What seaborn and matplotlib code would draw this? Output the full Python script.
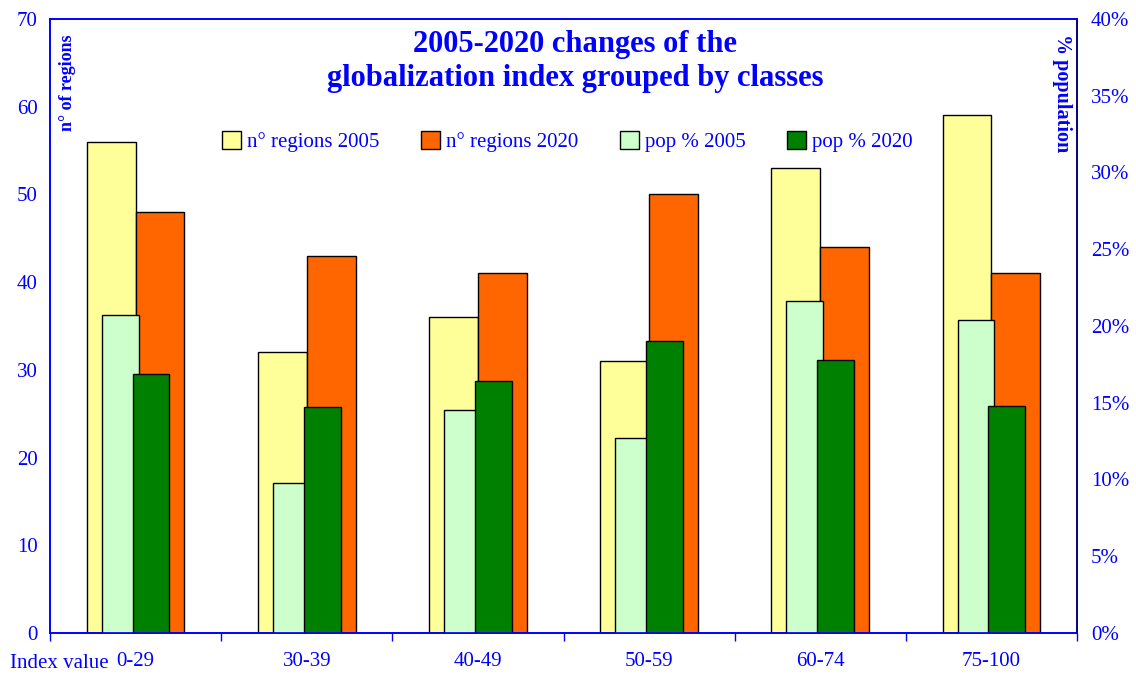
import matplotlib
matplotlib.use("Agg")
import matplotlib.pyplot as plt
import seaborn as sns
import pandas as pd
from matplotlib.ticker import MultipleLocator, FixedLocator, PercentFormatter
from matplotlib.patches import Patch

# --- data ---
classes = ["0-29", "30-39", "40-49", "50-59", "60-74", "75-100"]
regions_2005 = [56, 32, 36, 31, 53, 59]
regions_2020 = [48, 43, 41, 50, 44, 41]
pop_2005 = [20.7, 9.8, 14.5, 12.7, 21.6, 20.4]   # % population
pop_2020 = [16.9, 14.7, 16.4, 19.0, 17.8, 14.8]

reg_labels = ["n° regions 2005", "n° regions 2020"]
pop_labels = ["pop % 2005", "pop % 2020"]
reg_colors = ["#FFFF99", "#FF6600"]
pop_colors = ["#CCFFCC", "#008000"]
BLUE = "#0000FF"
NAVY = "#000080"

df_reg = pd.DataFrame({
    "cls": classes * 2,
    "value": regions_2005 + regions_2020,
    "series": [reg_labels[0]] * 6 + [reg_labels[1]] * 6,
})
df_pop = pd.DataFrame({
    "cls": classes * 2,
    "value": pop_2005 + pop_2020,
    "series": [pop_labels[0]] * 6 + [pop_labels[1]] * 6,
})

sns.set_theme(style="white")
plt.rcParams["font.family"] = ["Liberation Serif", "DejaVu Serif"]

fig = plt.figure(figsize=(11.36, 6.77), dpi=100)
ax = fig.add_axes([50 / 1136, 44 / 677, 1027 / 1136, 614 / 677])

# number of regions (left axis)
sns.barplot(data=df_reg, x="cls", y="value", hue="series", palette=reg_colors,
            width=0.57, saturation=1, edgecolor="black", linewidth=1,
            legend=False, ax=ax)

# population share (right axis), bars overlap slightly
ax2 = ax.twinx()
sns.barplot(data=df_pop, x="cls", y="value", hue="series", palette=pop_colors,
            width=0.36, saturation=1, edgecolor="black", linewidth=1,
            legend=False, ax=ax2)
for p in ax2.patches:
    c = p.get_x() + p.get_width() / 2
    p.set_width(0.216)
    p.set_x(c - 0.108)

ax.set_xlim(-0.5, 5.5)
ax.set_ylim(0, 70)
ax2.set_ylim(0, 40)
ax.yaxis.set_major_locator(MultipleLocator(10))
ax2.yaxis.set_major_locator(MultipleLocator(5))
ax2.yaxis.set_major_formatter(PercentFormatter(decimals=0))

ax.set_xlabel("")
ax.set_ylabel("")
ax2.set_ylabel("")

# ticks
ax.tick_params(axis="y", length=0, pad=9, labelsize=15, labelcolor=BLUE)
ax2.tick_params(axis="y", length=0, pad=10, labelsize=15, labelcolor=BLUE)
ax.tick_params(axis="x", which="major", length=0, pad=14, labelsize=15, labelcolor=BLUE)
ax.xaxis.set_minor_locator(FixedLocator([i - 0.5 for i in range(len(classes) + 1)]))
ax.tick_params(axis="x", which="minor", bottom=True, length=6, width=1, color=BLUE, direction="out")

for a in (ax, ax2):
    a.grid(False)
    a.spines["left"].set_color(BLUE)
    a.spines["bottom"].set_color(BLUE)
    a.spines["top"].set_color(BLUE)
    a.spines["right"].set_color(NAVY)
    for s in a.spines.values():
        s.set_linewidth(1.2)

fig.text(10 / 1136, 1 - 663 / 677, "Index value", color=BLUE, fontsize=15,
         ha="left", va="center")

# axis titles inside the plot
ax.text(0.0175, 0.975, "n° of regions", transform=ax.transAxes, rotation=90,
        ha="center", va="top", color=BLUE, fontsize=13, fontweight="bold")
ax.text(0.985, 0.975, "% population", transform=ax.transAxes, rotation=270,
        ha="center", va="top", color=BLUE, fontsize=14.5, fontweight="bold")

fig.text(0.506, 1 - 30 / 677, "2005-2020 changes of the\nglobalization index grouped by classes",
         ha="center", va="top", color=BLUE, fontsize=22, fontweight="bold",
         linespacing=1.22)

handles = [Patch(facecolor=c, edgecolor="black", linewidth=1) for c in reg_colors + pop_colors]
ax2.legend(handles, reg_labels + pop_labels, ncol=4, loc="center",
           bbox_to_anchor=(0.504, 0.8), frameon=False, fontsize=15,
           labelcolor=BLUE, handlelength=0.9, handleheight=0.9,
           handletextpad=0.3, columnspacing=2.0)

fig.savefig("out.png", dpi=100)
